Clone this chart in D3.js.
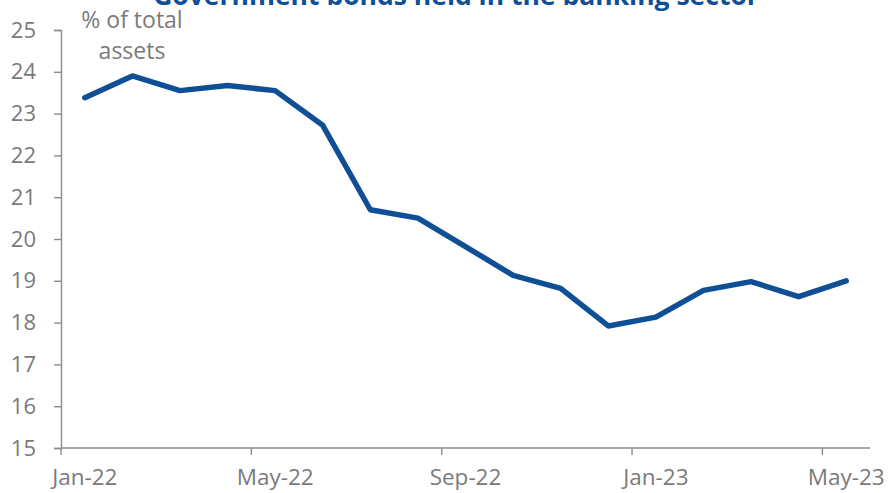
<!DOCTYPE html>
<html>
<head>
<meta charset="utf-8">
<script src="https://cdn.jsdelivr.net/npm/d3@7"></script>
<style>
  html, body { margin: 0; padding: 0; background: #fff; }
  svg { display: block; }
  text { font-family: "Open Sans", "Noto Sans", sans-serif; }
</style>
</head>
<body>
<svg id="chart" width="890" height="493"></svg>
<script>
// Monthly observations, Jan-22 .. May-23
const months = ["Jan-22","Feb-22","Mar-22","Apr-22","May-22","Jun-22","Jul-22","Aug-22",
                "Sep-22","Oct-22","Nov-22","Dec-22","Jan-23","Feb-23","Mar-23","Apr-23","May-23"];
const bondShare = [23.38, 23.9, 23.55, 23.67, 23.55, 22.72, 20.7, 20.5,
                   19.82, 19.13, 18.82, 17.92, 18.13, 18.77, 18.98, 18.62, 19.0];
const yTicks = [15, 16, 17, 18, 19, 20, 21, 22, 23, 24, 25];
const xLabelMonths = ["Jan-22", "May-22", "Sep-22", "Jan-23", "May-23"];

const titleText = "Government bonds held in the banking sector";
const unitLines = ["% of total", "assets"];

const svg = d3.select("#chart");
const left = 61;
const axisColor = "#8c8c8c";
const textColor = "#7a7a7a";
const lineColor = "#0f4f96";

const x = d3.scaleBand()
  .domain(months)
  .range([left, 870])
  .paddingInner(0).paddingOuter(0);

const y = d3.scaleLinear()
  .domain([15, 25])
  .range([448, 30]);

// Y axis
const yAxis = svg.append("g")
  .attr("transform", `translate(${left},0)`)
  .call(d3.axisLeft(y).tickValues(yTicks).tickSize(7).tickPadding(18).tickFormat(d3.format("d")));
yAxis.select(".domain").attr("stroke", axisColor).attr("stroke-width", 1.4);
yAxis.selectAll(".tick line").attr("stroke", axisColor).attr("stroke-width", 1.4);
yAxis.selectAll(".tick text")
  .attr("fill", textColor)
  .style("font-size", "22px");

// X axis: ticks at category boundaries every four months, labels centred on the category
const xAxis = svg.append("g").attr("transform", `translate(0,${y(15)})`);
xAxis.append("line")
  .attr("x1", x.range()[0]).attr("x2", x.range()[1])
  .attr("y1", 0).attr("y2", 0)
  .attr("stroke", axisColor).attr("stroke-width", 1.4);
xAxis.selectAll("line.tick")
  .data(xLabelMonths)
  .join("line")
  .attr("class", "tick")
  .attr("x1", d => x(d)).attr("x2", d => x(d))
  .attr("y1", 0).attr("y2", 7)
  .attr("stroke", axisColor).attr("stroke-width", 1.4);
xAxis.selectAll("text")
  .data(xLabelMonths)
  .join("text")
  .attr("x", d => x(d) + x.bandwidth() / 2)
  .attr("y", 37)
  .attr("text-anchor", "middle")
  .attr("fill", textColor)
  .style("font-size", "22.5px")
  .text(d => d);

// Series line
const line = d3.line()
  .x((d, i) => x(months[i]) + x.bandwidth() / 2)
  .y(d => y(d));
svg.append("path")
  .datum(bondShare)
  .attr("d", line)
  .attr("fill", "none")
  .attr("stroke", lineColor)
  .attr("stroke-width", 5.5)
  .attr("stroke-linejoin", "round")
  .attr("stroke-linecap", "round");

// Unit label
svg.append("text")
  .attr("x", 132).attr("y", 28)
  .attr("text-anchor", "middle")
  .attr("fill", textColor)
  .style("font-size", "23px")
  .selectAll("tspan")
  .data(unitLines)
  .join("tspan")
  .attr("x", 132)
  .attr("dy", (d, i) => i === 0 ? 0 : 31)
  .text(d => d);

// Title
svg.append("text")
  .attr("x", 456).attr("y", 5)
  .attr("text-anchor", "middle")
  .attr("fill", "#0f4f96")
  .style("font-size", "26.5px")
  .style("font-weight", "bold")
  .text(titleText);
</script>
</body>
</html>
